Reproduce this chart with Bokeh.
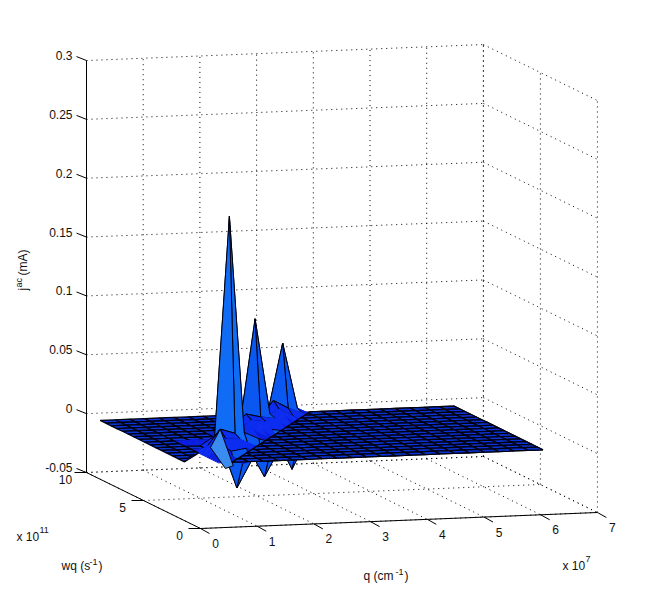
from bokeh.plotting import figure
from bokeh.embed import file_html
from bokeh.resources import INLINE
from bokeh.models import Range1d, ColumnDataSource
from bokeh.core.properties import value
import math

# axis ticks
q_ticks = [0, 1, 2, 3, 4, 5, 6, 7]
w_ticks = [0, 5, 10]
z_ticks = [-0.05, 0, 0.05, 0.1, 0.15, 0.2, 0.25, 0.3]
z_labels = ["-0.05", "0", "0.05", "0.1", "0.15", "0.2", "0.25", "0.3"]

# surface grid
q_grid = [0, .26, .52, .78, 1.04, 1.30, 1.56, 1.82, 2.08, 2.34, 2.60, 2.86, 3.12,
          3.38, 3.64, 3.90, 4.16, 4.42, 4.68, 4.94, 5.20, 5.46, 5.72, 5.98, 6.24]
w_grid = [1.0, 1.49, 1.98, 2.46, 2.95, 3.44, 3.93, 4.41, 4.90, 5.39, 5.88, 6.36,
          6.85, 7.34, 7.83, 8.31, 8.80]

# main peaks, their small side peaks and the negative dips: grid index -> j^ac
peak_i = [5, 9, 12, 4, 8, 11, 4, 7, 10]
peak_j = [6, 12, 15, 5, 11, 14, 2, 5, 8]
peak_z = [.194, .091, .062, .016, .013, .016, -.027, -.026, -.028]

# low ridge between the front fold and the peak line
ridge_i = [3, 3, 3, 3,
           4, 4, 4, 4, 3, 5,
           5, 5, 5, 5,
           6, 6, 6, 6, 6, 6,
           7, 7, 7, 7, 8, 6,
           8, 8, 8, 8, 8,
           9, 9, 9, 9, 9, 9,
           10, 10, 10, 10, 10, 10, 11,
           11, 11, 11, 11,
           12, 12, 12,
           13, 13, 13]
ridge_j = [1, 2, 3, 4,
           1, 3, 4, 6, 7, 2,
           3, 4, 5, 7,
           4, 5, 6, 7, 8, 5,
           4, 6, 7, 8, 5, 9,
           7, 8, 9, 10, 12,
           8, 9, 10, 11, 13, 7,
           7, 9, 10, 11, 12, 13, 8,
           11, 12, 13, 15,
           13, 14, 16,
           14, 15, 16]
ridge_z = [.006, .008, .010, .006,
           -.004, .002, .010, .008, .003, -.004,
           .004, .009, .012, .005,
           .003, .006, .010, .010, .004, -.003,
           -.003, .004, .009, .010, -.003, .003,
           .002, .006, .009, .010, .004,
           -.003, .004, .008, .010, .004, -.002,
           -.003, .002, .006, .008, .010, .004, -.003,
           .003, .007, .011, .004,
           .004, .009, .004,
           .004, .006, .004]

# pale facet at the near corner of the surface
corner_q = [.9, .64, .78, 1.04]
corner_w = [3.6, 1.0, 1.0, 3.44]
corner_z = [0, -.005, -.003, .016]

# straight fold lines of the flat sheet: w = slope * q + offset
front_fold = (2.65, -1.0)
back_fold = (2.6, 1.4)

flat_color = "#0a34d4"
faces = ["#0a1ee0", "#0c2cf0", "#0a58f0", "#106cf4"]
light_face = "#3a8cf0"

W, H = 645, 585


def sx(q, w):
    return 200 + 56.7 * q - 11.4 * w


def sy(q, w, z):
    return 528 - 2.286 * q - 5.6 * w - 1177 * (z + 0.05)


def clip(poly, fold, keep_below):
    """Clip a (q, w) polygon against the line w = slope q + offset."""
    a, b = fold

    def f(pt):
        d = pt[1] - (a * pt[0] + b)
        return -d if keep_below else d

    out = []
    for k in range(len(poly)):
        s, e = poly[k], poly[(k + 1) % len(poly)]
        fs, fe = f(s), f(e)
        if fs >= 0:
            out.append(s)
        if (fs >= 0) != (fe >= 0):
            t = fs / (fs - fe)
            out.append((s[0] + t * (e[0] - s[0]), s[1] + t * (e[1] - s[1])))
    return out


p = figure(width=W, height=H, x_range=Range1d(0, W), y_range=Range1d(H, 0),
           output_backend="svg", toolbar_location=None, min_border=0, outline_line_color=None)
p.axis.visible = False
p.grid.visible = False

# dotted walls and floor
gx, gy = [], []


def seg(a, b):
    gx.append([sx(a[0], a[1]), sx(b[0], b[1])])
    gy.append([sy(*a), sy(*b)])


zmin, zmax = z_ticks[0], z_ticks[-1]
qmax, wmax = q_ticks[-1], w_ticks[-1]
for z in z_ticks:
    seg((0, wmax, z), (qmax, wmax, z))
    seg((qmax, wmax, z), (qmax, 0, z))
for q in q_ticks:
    seg((q, wmax, zmin), (q, wmax, zmax))
    seg((q, wmax, zmin), (q, 0, zmin))
for w in w_ticks:
    seg((qmax, w, zmin), (qmax, w, zmax))
    seg((0, w, zmin), (qmax, w, zmin))
p.multi_line(gx, gy, line_color="black", line_width=1, line_dash="1 4")

# surface (painter order)
Z = [[0.0 for _ in w_grid] for _ in q_grid]
for i, j, z in zip(ridge_i, ridge_j, ridge_z):
    Z[i][j] = z
for i, j, z in zip(peak_i, peak_j, peak_z):
    Z[i][j] = z
major = set(zip(peak_i, peak_j))

cells = []
overlay = []
for i in range(len(q_grid) - 1):
    for j in range(len(w_grid) - 1):
        c = [(i, j), (i + 1, j), (i + 1, j + 1), (i, j + 1)]
        depth = sum(2.286 * q_grid[a] + 5.6 * w_grid[b] for a, b in c)
        vals = [Z[a][b] for a, b in c]
        m = sum(vals) / 4
        is_flat = all(v == 0 for v in vals)
        touches = any(v in major for v in c)
        qw = [(q_grid[a], w_grid[b]) for a, b in c]
        front = clip(qw, front_fold, True)
        if len(front) >= 3:
            overlay.append((depth, [sx(*v) for v in front], [sy(v[0], v[1], 0) for v in front],
                            flat_color, "#000010", 1.3))
        if is_flat:
            col = flat_color
            if i <= 3:
                qw = clip(qw, back_fold, False)
                if len(qw) < 3:
                    continue
            cells.append((depth, [sx(*v) for v in qw], [sy(v[0], v[1], 0) for v in qw],
                          col, "#000010", 1.3))
            continue
        if m < 0.004:
            col = faces[2] if m < -0.002 else faces[0]
        elif m < 0.012:
            col = faces[1]
        elif m < 0.03:
            col = faces[2]
        else:
            col = faces[3]
        edge = "#000010" if touches else col
        cells.append((depth, [sx(*v) for v in qw],
                      [sy(q_grid[a], w_grid[b], Z[a][b]) for a, b in c], col, edge, 1.0))
cells.sort(key=lambda t: -t[0])
overlay.sort(key=lambda t: -t[0])
# the pale corner facet sits after the back sheet, before the peak faces closest to the viewer
cells.append((0, [sx(q, w) for q, w in zip(corner_q, corner_w)],
              [sy(q, w, z) for q, w, z in zip(corner_q, corner_w, corner_z)],
              light_face, "#000010", 1.0))
cells = cells + overlay
src = ColumnDataSource(dict(xs=[t[1] for t in cells], ys=[t[2] for t in cells],
                            c=[t[3] for t in cells], e=[t[4] for t in cells], lw=[t[5] for t in cells]))
p.patches("xs", "ys", source=src, fill_color="c", line_color="e", line_width="lw")

# solid axes and ticks
ax, ay = [], []


def aseg(x0, y0, x1, y1):
    ax.append([x0, x1])
    ay.append([y0, y1])


aseg(sx(0, wmax), sy(0, wmax, zmin), sx(0, wmax), sy(0, wmax, zmax))
aseg(sx(0, 0), sy(0, 0, zmin), sx(0, wmax), sy(0, wmax, zmin))
aseg(sx(0, 0), sy(0, 0, zmin), sx(qmax, 0), sy(qmax, 0, zmin))
for z in z_ticks:
    aseg(sx(0, wmax), sy(0, wmax, z), sx(0, wmax) - 10, sy(0, wmax, z) - 4)
for q in q_ticks:
    aseg(sx(q, 0), sy(q, 0, zmin), sx(q, 0) + 9, sy(q, 0, zmin) + 5)
for w in w_ticks:
    aseg(sx(0, w), sy(0, w, zmin), sx(0, w) - 12, sy(0, w, zmin))
p.multi_line(ax, ay, line_color="black", line_width=1)

font = value("Liberation Sans")


def label(x, y, t, size="12px", align="center", angle=0.0, base="middle"):
    p.text([x], [y], text=[t], text_font=font, text_font_size=size, text_align=align,
           text_baseline=base, angle=angle, text_color="#101010")


for z, t in zip(z_ticks, z_labels):
    label(sx(0, wmax) - 14, sy(0, wmax, z) - 5, t, align="right")
for q in q_ticks:
    label(sx(q, 0) + 15, sy(q, 0, zmin) + 15, str(q))
for w in w_ticks:
    label(sx(0, w) - 21, sy(0, w, zmin) + 7, str(w))

label(16, 536, "x 10", align="left")
label(39, 529, "11", size="9px", align="left")
label(562, 565, "x 10", align="left")
label(585, 558, "7", size="9px", align="left")
label(61, 565, "wq (s", align="left")
label(89, 561, "-1", size="9px", align="left")
label(98, 565, ")", align="left")
label(363, 575, "q (cm", align="left")
label(395, 571, "-1", size="9px", align="left")
label(404, 575, ")", align="left")
label(22, 290, "j", align="left", angle=math.pi / 2)
label(18, 287, "ac", size="9px", align="left", angle=math.pi / 2)
label(22, 275, "(mA)", align="left", angle=math.pi / 2)

open("out.html", "w").write(file_html(p, INLINE))
